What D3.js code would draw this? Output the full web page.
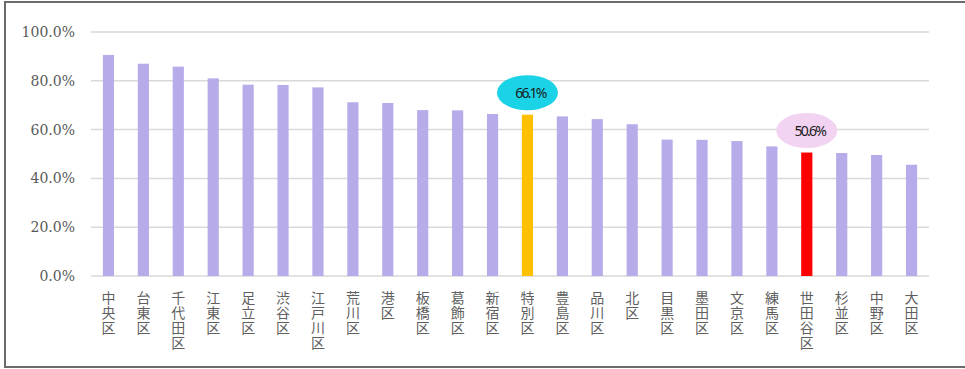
<!DOCTYPE html>
<html>
<head>
<meta charset="utf-8">
<script src="https://cdn.jsdelivr.net/npm/d3@7"></script>
<style>
  html, body { margin: 0; padding: 0; background: #fff; }
  svg { display: block; }
  .ytick { font-family: "DejaVu Serif"; font-size: 14px; }
</style>
</head>
<body>
<svg id="chart" width="965" height="369"></svg>
<script>
// Ward names (東京23区 + 特別区 average)
const wards = ["中央区","台東区","千代田区","江東区","足立区","渋谷区","江戸川区","荒川区","港区","板橋区","葛飾区","新宿区","特別区","豊島区","品川区","北区","目黒区","墨田区","文京区","練馬区","世田谷区","杉並区","中野区","大田区"];
// Rate per ward (%)
const rates = [90.6, 87.0, 85.8, 81.0, 78.4, 78.3, 77.3, 71.2, 70.9, 68.0, 67.9, 66.4, 66.1, 65.4, 64.3, 62.2, 55.9, 55.8, 55.3, 53.1, 50.6, 50.4, 49.6, 45.6];
// Y-axis ticks (%)
const yTicks = [0, 20, 40, 60, 80, 100];
// Highlighted bars and their callout colours
const highlight = { "特別区": { bar: "#FFC000", bubble: "#1BD3E6" }, "世田谷区": { bar: "#FF0000", bubble: "#F2D4F2" } };

const svg = d3.select("#chart");
const W = 965;
const plotL = 91, plotR = 929, plotT = 32, plotB = 276;

// outer frame (open on the right side)
svg.append("path")
  .attr("d", `M${W + 2},2 H5 V367 H${W + 2}`)
  .attr("fill", "none").attr("stroke", "#6b6b6b").attr("stroke-width", 2);

const x = d3.scaleBand().domain(wards).range([plotL, plotR]).paddingInner(0.68).paddingOuter(0.34);
const y = d3.scaleLinear().domain([0, 100]).range([plotB, plotT]);

// gridlines
svg.append("g").selectAll("line").data(yTicks).join("line")
  .attr("x1", plotL).attr("x2", plotR)
  .attr("y1", d => y(d)).attr("y2", d => y(d))
  .attr("stroke", "#d9d9d9").attr("stroke-width", 1.5);

// y tick labels
svg.append("g").selectAll("text").data(yTicks).join("text")
  .attr("class", "ytick")
  .attr("x", 75).attr("y", d => y(d))
  .attr("dy", "0.36em")
  .attr("text-anchor", "end")
  .attr("fill", "#595959")
  .text(d => d.toFixed(1) + "%");

// bars
svg.append("g").selectAll("rect").data(wards).join("rect")
  .attr("x", d => x(d))
  .attr("width", x.bandwidth())
  .attr("y", (d, i) => y(rates[i]))
  .attr("height", (d, i) => y(0) - y(rates[i]))
  .attr("fill", d => highlight[d] ? highlight[d].bar : "#B8ABEA");

// vertical category labels (top-to-bottom writing)
svg.append("g").selectAll("text").data(wards).join("text")
  .attr("x", d => x(d) + x.bandwidth() / 2)
  .attr("y", 291)
  .style("writing-mode", "vertical-rl")
  .style("font-family", "'Noto Sans CJK JP', sans-serif")
  .style("font-size", "14px")
  .style("letter-spacing", "1px")
  .attr("fill", "#5f5f5f")
  .text(d => d);

// value callouts
const callouts = wards.map((d, i) => ({ name: d, v: rates[i] })).filter(d => highlight[d.name]);
const cg = svg.append("g").selectAll("g").data(callouts).join("g")
  .attr("transform", d => `translate(${x(d.name) + x.bandwidth() / 2},${y(d.v) - 22})`);
cg.append("ellipse")
  .attr("rx", 30.5).attr("ry", 17.5)
  .attr("fill", d => highlight[d.name].bubble);
cg.append("text")
  .attr("x", 3).attr("dy", "0.36em")
  .attr("text-anchor", "middle")
  .style("font-family", "'Noto Sans', sans-serif")
  .style("font-size", "14px")
  .style("letter-spacing", "-1.8px")
  .attr("fill", "#1a1a1a")
  .text(d => d.v.toFixed(1) + "%");
</script>
</body>
</html>
